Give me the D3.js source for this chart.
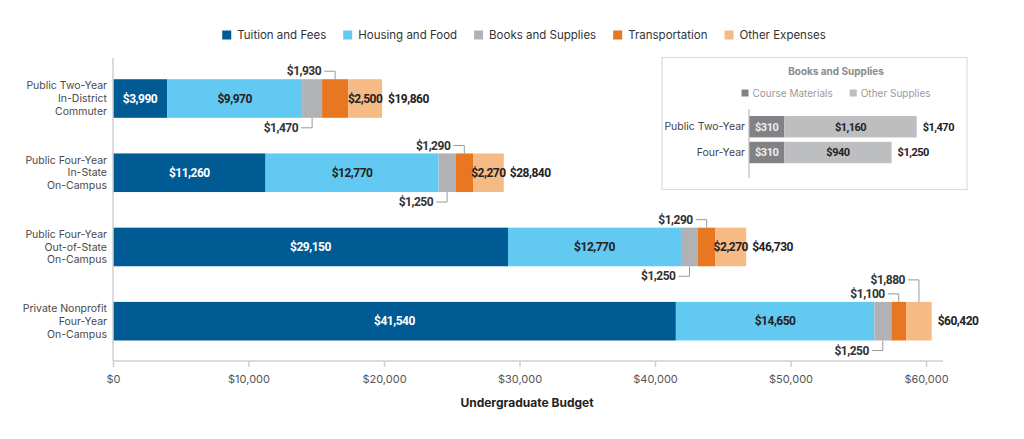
<!DOCTYPE html>
<html>
<head>
<meta charset="utf-8">
<script src="https://cdn.jsdelivr.net/npm/d3@7"></script>
<style>
  body { margin: 0; background: #fff; }
  svg { display: block; }
</style>
</head>
<body>
<div id="chart"></div>
<script>
// data
var categories = [
  ["Public Two-Year", "In-District", "Commuter"],
  ["Public Four-Year", "In-State", "On-Campus"],
  ["Public Four-Year", "Out-of-State", "On-Campus"],
  ["Private Nonprofit", "Four-Year", "On-Campus"]
];
var seriesNames = ["Tuition and Fees", "Housing and Food", "Books and Supplies", "Transportation", "Other Expenses"];
var seriesColors = ["#005a94", "#62c9f2", "#b1b2b5", "#e87722", "#f6ba84"];
var tuition = [3990, 11260, 29150, 41540];
var housing = [9970, 12770, 12770, 14650];
var books = [1470, 1250, 1250, 1250];
var transport = [1930, 1290, 1290, 1100];
var other = [2500, 2270, 2270, 1880];
var totals = [19860, 28840, 46730, 60420];
var xTicks = [0, 10000, 20000, 30000, 40000, 50000, 60000];

// inset data
var insetCats = ["Public Two-Year", "Four-Year"];
var insetNames = ["Course Materials", "Other Supplies"];
var insetColors = ["#808285", "#bdbec0"];
var courseMaterials = [310, 310];
var otherSupplies = [1160, 940];
var insetTotals = [1470, 1250];

var W = 1024, H = 439;
var fmt = function(v){ return "$" + d3.format(",")(v); };
var labelFont = "Roboto, 'Liberation Sans', sans-serif";
var textFont = "Inter, Roboto, sans-serif";

var svg = d3.select("#chart").append("svg")
    .attr("width", W)
    .attr("height", H);

var x = d3.scaleLinear().domain([0, 60000]).range([113, 926]);
var y = d3.scaleBand().domain(d3.range(categories.length))
    .range([61.4, 358.3]).paddingInner(0.48).paddingOuter(0.24);

var series = [tuition, housing, books, transport, other];

// stacked segments
categories.forEach(function(c, i){
  var acc = 0;
  series.forEach(function(s, k){
    svg.append("rect")
      .attr("x", x(acc))
      .attr("y", y(i))
      .attr("width", x(acc + s[i]) - x(acc))
      .attr("height", y.bandwidth())
      .style("fill", seriesColors[k]);
    acc += s[i];
  });
});

// axis
var axisY = 361;
svg.append("line")
  .attr("x1", 113).attr("x2", 943)
  .attr("y1", axisY).attr("y2", axisY)
  .style("stroke", "#cfcfcf").style("stroke-width", 1.5);
svg.append("line")
  .attr("x1", 113).attr("x2", 113)
  .attr("y1", 58).attr("y2", axisY)
  .style("stroke", "#cfcfcf").style("stroke-width", 1.5);

var xAxis = svg.append("g").attr("transform", "translate(0," + axisY + ")")
  .call(d3.axisBottom(x).tickValues(xTicks).tickSize(6).tickPadding(8)
    .tickFormat(function(d){ return "$" + d3.format(",")(d); }));
xAxis.select(".domain").remove();
xAxis.selectAll(".tick line").style("stroke", "#cfcfcf").style("stroke-width", 1.5);
xAxis.selectAll(".tick text")
  .style("font-family", textFont).style("font-size", "11px").style("fill", "#555");

svg.append("text")
  .attr("x", 527).attr("y", 407)
  .attr("text-anchor", "middle")
  .style("font-family", textFont).style("font-size", "12px")
  .style("font-weight", "700").style("fill", "#222")
  .text("Undergraduate Budget");

// category labels
categories.forEach(function(c, i){
  var cy = y(i) + y.bandwidth() / 2;
  var t = svg.append("text")
    .attr("text-anchor", "end")
    .style("font-family", textFont).style("font-size", "10.5px").style("fill", "#4a4a4a");
  c.forEach(function(line, j){
    t.append("tspan")
      .attr("x", 107)
      .attr("y", cy + (j - 1) * 12.7)
      .attr("dy", "0.35em")
      .text(line);
  });
});

// value labels
function valueText(px, py, txt, anchor, fill){
  return svg.append("text")
    .attr("x", px).attr("y", py).attr("dy", "0.35em")
    .attr("text-anchor", anchor)
    .style("font-family", labelFont).style("font-size", "12px")
    .style("font-weight", "700").style("letter-spacing", "-0.5px")
    .style("fill", fill)
    .text(txt);
}
function callout(cx, edgeY, textY, txt){
  var endX = cx - 14;
  valueText(endX, textY, txt, "end", "#333");
  svg.append("path")
    .attr("d", "M" + (endX + 3) + "," + textY + "H" + cx + "V" + edgeY)
    .style("fill", "none").style("stroke", "#999").style("stroke-width", 1);
}

categories.forEach(function(c, i){
  var top = y(i), bot = y(i) + y.bandwidth(), cy = top + y.bandwidth() / 2;
  var s0 = 0, s1 = tuition[i], s2 = s1 + housing[i], s3 = s2 + books[i], s4 = s3 + transport[i], s5 = s4 + other[i];
  valueText((x(s0) + x(s1)) / 2, cy, fmt(tuition[i]), "middle", "#fff");
  valueText((x(s1) + x(s2)) / 2, cy, fmt(housing[i]), "middle", "#222");
  callout((x(s2) + x(s3)) / 2, bot, bot + 10, fmt(books[i]));
  callout((x(s3) + x(s4)) / 2, top, top - 8, fmt(transport[i]));
  if (i < 3) {
    valueText((x(s4) + x(s5)) / 2, cy, fmt(other[i]), "middle", "#222");
  } else {
    callout((x(s4) + x(s5)) / 2, top, top - 22, fmt(other[i]));
  }
  valueText(x(s5) + 6, cy, fmt(totals[i]), "start", "#222");
});

// legend
var legend = svg.append("g");
var lx = 0;
seriesNames.forEach(function(n, k){
  var g = legend.append("g").attr("transform", "translate(" + lx + ",0)");
  g.append("rect").attr("x", 0).attr("y", -4.5).attr("width", 9).attr("height", 9)
    .style("fill", seriesColors[k]);
  var t = g.append("text").attr("x", 15).attr("dy", "0.35em")
    .style("font-family", textFont).style("font-size", "11.5px").style("fill", "#333")
    .text(n);
  lx += 15 + t.node().getComputedTextLength() + 17;
});
lx -= 17;
legend.attr("transform", "translate(" + (524 - lx / 2) + ",35)");

// inset panel
svg.append("rect")
  .attr("x", 662).attr("y", 57.5).attr("width", 305).attr("height", 132)
  .style("fill", "#fff").style("stroke", "#dcdcdc").style("stroke-width", 1.2);
svg.append("text")
  .attr("x", 836).attr("y", 71).attr("dy", "0.35em")
  .attr("text-anchor", "middle")
  .style("font-family", textFont).style("font-size", "10px")
  .style("font-weight", "700").style("fill", "#8a8a8a")
  .text("Books and Supplies");

var ilegend = svg.append("g");
var ilx = 0;
insetNames.forEach(function(n, k){
  var g = ilegend.append("g").attr("transform", "translate(" + ilx + ",0)");
  g.append("rect").attr("x", 0).attr("y", -3.5).attr("width", 7).attr("height", 7)
    .style("fill", insetColors[k]);
  var t = g.append("text").attr("x", 11).attr("dy", "0.35em")
    .style("font-family", textFont).style("font-size", "10px").style("fill", "#9a9a9a")
    .text(n);
  ilx += 11 + t.node().getComputedTextLength() + 17;
});
ilx -= 17;
ilegend.attr("transform", "translate(" + (836 - ilx / 2) + ",93)");

var x2 = d3.scaleLinear().domain([0, 1470]).range([749, 916.7]);
var y2 = d3.scaleBand().domain(d3.range(insetCats.length))
    .range([113.8, 165.4]).paddingInner(0.17).paddingOuter(0.085);

insetCats.forEach(function(c, i){
  var cy = y2(i) + y2.bandwidth() / 2;
  svg.append("rect")
    .attr("x", x2(0)).attr("y", y2(i))
    .attr("width", x2(courseMaterials[i]) - x2(0)).attr("height", y2.bandwidth())
    .style("fill", insetColors[0]);
  svg.append("rect")
    .attr("x", x2(courseMaterials[i])).attr("y", y2(i))
    .attr("width", x2(courseMaterials[i] + otherSupplies[i]) - x2(courseMaterials[i]))
    .attr("height", y2.bandwidth())
    .style("fill", insetColors[1]);
  valueText((x2(0) + x2(courseMaterials[i])) / 2, cy, fmt(courseMaterials[i]), "middle", "#eee")
    .style("font-size", "11px");
  valueText((x2(courseMaterials[i]) + x2(insetTotals[i])) / 2, cy, fmt(otherSupplies[i]), "middle", "#222")
    .style("font-size", "11px");
  valueText(x2(insetTotals[i]) + 6, cy, fmt(insetTotals[i]), "start", "#222")
    .style("font-size", "11px");
  svg.append("text")
    .attr("x", 745).attr("y", cy).attr("dy", "0.35em")
    .attr("text-anchor", "end")
    .style("font-family", textFont).style("font-size", "10.5px").style("fill", "#444")
    .text(c);
});
svg.append("line")
  .attr("x1", 749).attr("x2", 749).attr("y1", 109).attr("y2", 178)
  .style("stroke", "#bbb").style("stroke-width", 1.2);
</script>
</body>
</html>
